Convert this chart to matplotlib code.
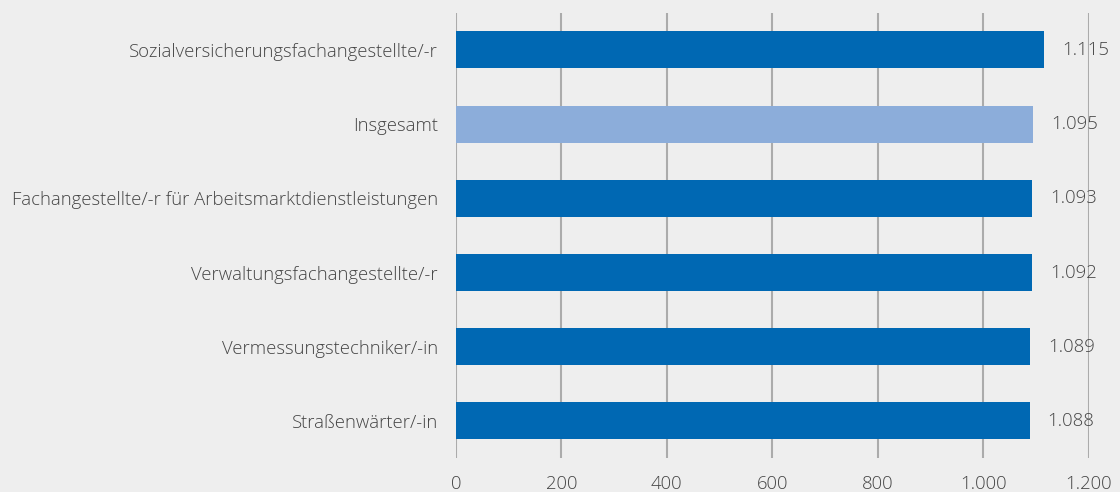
import matplotlib
matplotlib.use("Agg")
import matplotlib.pyplot as plt
from matplotlib.ticker import FuncFormatter

categories = [
    "Sozialversicherungsfachangestellte/-r",
    "Insgesamt",
    "Fachangestellte/-r für Arbeitsmarktdienstleistungen",
    "Verwaltungsfachangestellte/-r",
    "Vermessungstechniker/-in",
    "Straßenwärter/-in",
]
values = [1115, 1095, 1093, 1092, 1089, 1088]
highlight = "Insgesamt"

DARK = "#0068b3"
LIGHT = "#8cadda"
BG = "#eeeeee"
TEXT = "#444444"
GRID = "#ababab"


def de_num(v, _pos=None):
    return f"{int(v):,}".replace(",", ".")


plt.rcParams["font.family"] = ["Open Sans", "DejaVu Sans"]

fig = plt.figure(figsize=(11.2, 4.92), dpi=100, facecolor=BG)
ax = fig.add_axes([0.407, 0.069, 0.565, 0.905], facecolor=BG)

colors = [LIGHT if c == highlight else DARK for c in categories]
ypos = range(len(categories))
bars = ax.barh(ypos, values, height=0.5, color=colors, zorder=3)

for b, v in zip(bars, values):
    ax.annotate(de_num(v), (b.get_width(), b.get_y() + b.get_height() / 2),
                xytext=(13, 0), textcoords="offset points", va="center",
                ha="left", fontsize=13.3, color=TEXT, fontweight="light")

ax.set_xlim(0, 1200)
ax.set_ylim(5.5, -0.5)
ax.set_xticks(range(0, 1201, 200))
ax.xaxis.set_major_formatter(FuncFormatter(de_num))
ax.set_yticks(list(ypos))
ax.set_yticklabels(categories)
ax.grid(axis="x", color=GRID, linewidth=1.5, zorder=0)
for s in ax.spines.values():
    s.set_visible(False)
ax.tick_params(axis="both", length=0, labelsize=13.3, labelcolor=TEXT)
ax.tick_params(axis="y", pad=13)
ax.tick_params(axis="x", pad=12)
for t in ax.get_xticklabels() + ax.get_yticklabels():
    t.set_fontweight("light")

fig.savefig("out.png", dpi=100, facecolor=BG)
